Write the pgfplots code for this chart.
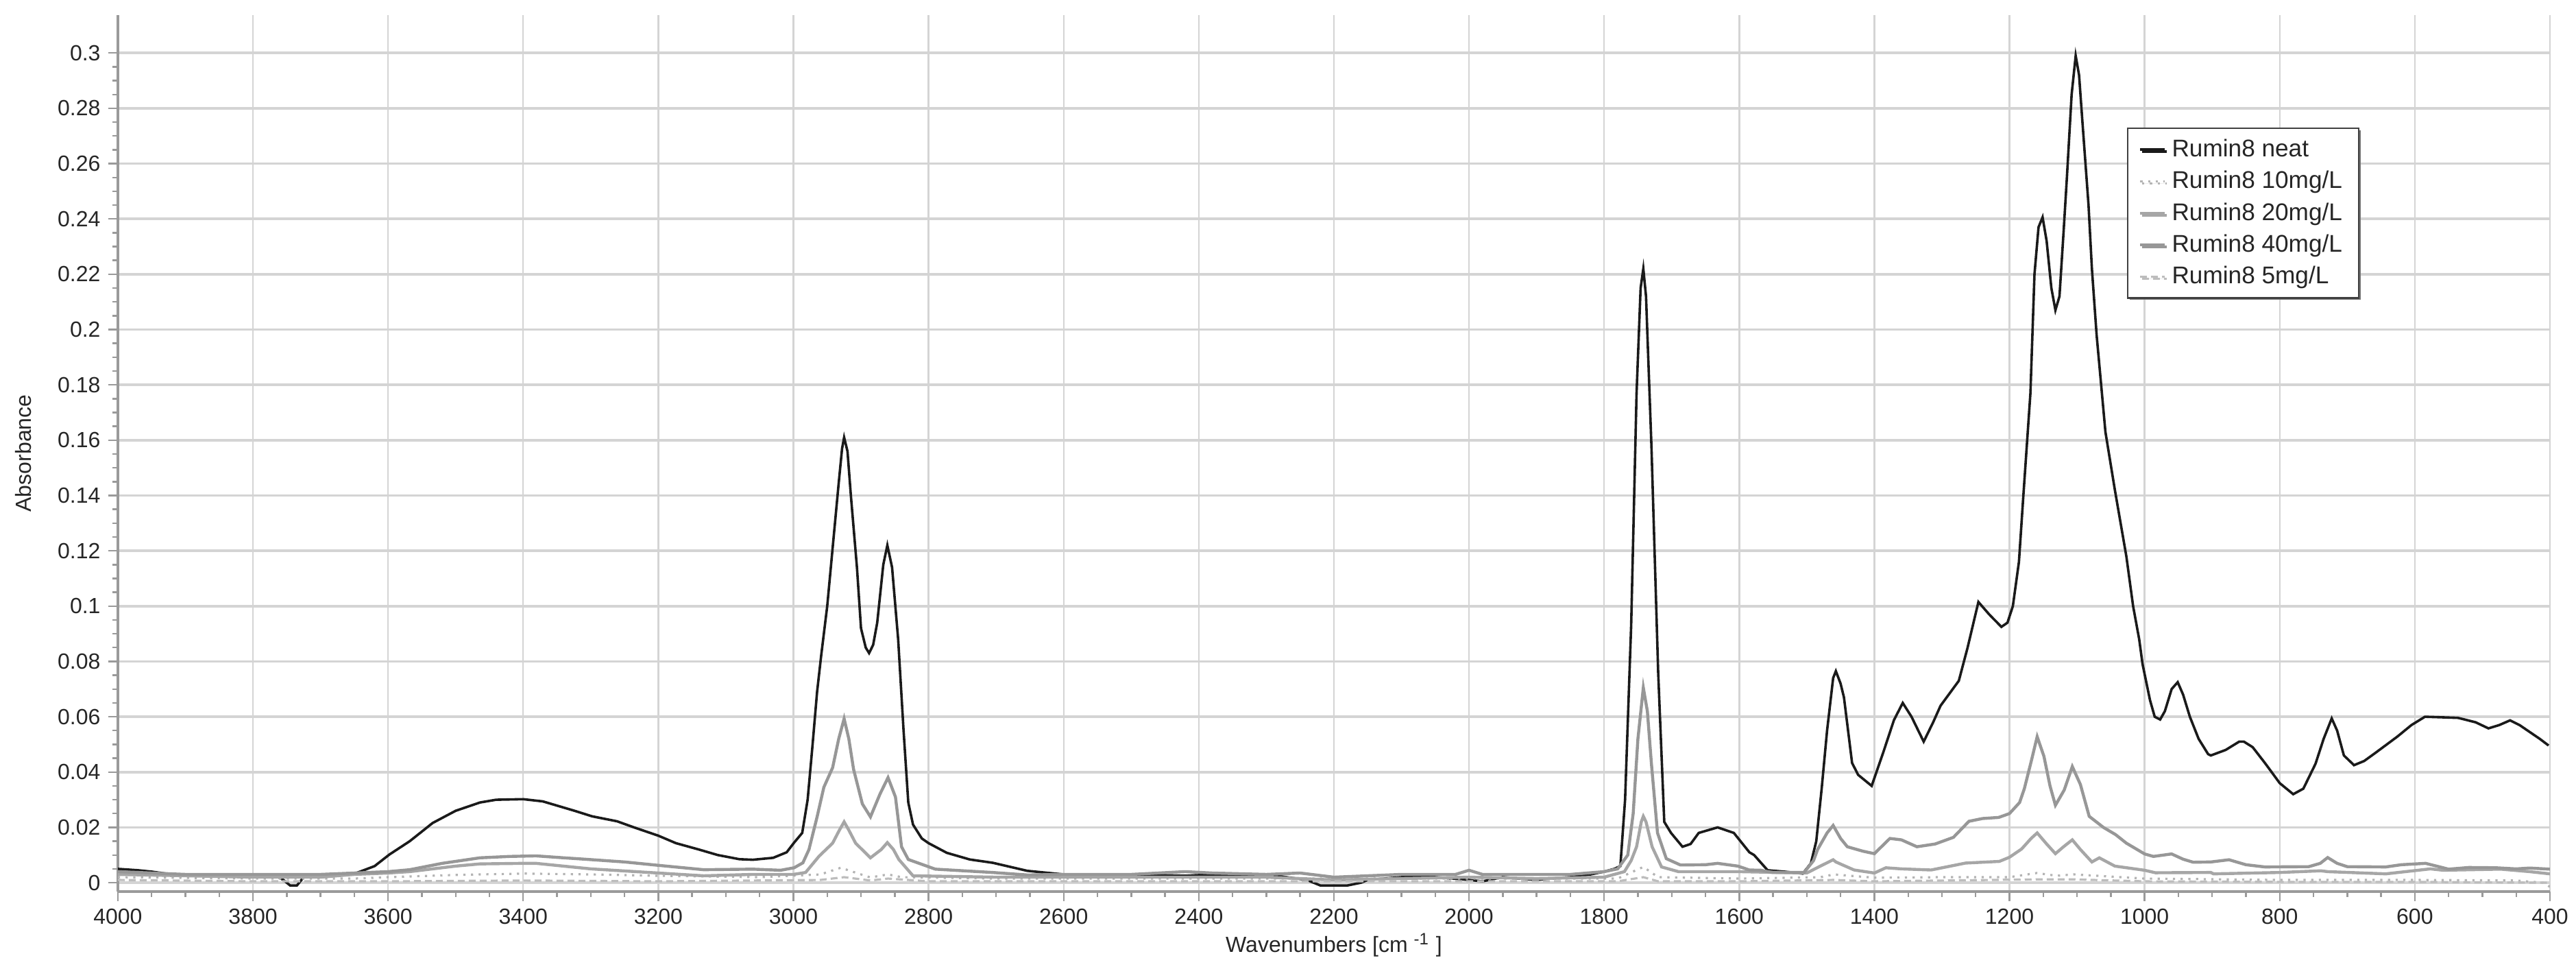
\documentclass[border=0pt]{standalone}
\usepackage{fontspec}
\setmainfont{Liberation Sans}
\usepackage{pgfplots}
\pgfplotsset{compat=1.18}
\usetikzlibrary{shadows}
\definecolor{gridc}{HTML}{D4D4D4}
\definecolor{axc}{HTML}{9A9A9A}
\definecolor{cneat}{HTML}{1A1A1A}
\definecolor{cten}{HTML}{B4B4B4}
\definecolor{ctwenty}{HTML}{A6A6A6}
\definecolor{cforty}{HTML}{979797}
\definecolor{cfive}{HTML}{BDBDBD}
\begin{document}
\fontsize{8pt}{9.6pt}\selectfont
\begin{tikzpicture}
\begin{axis}[
  at={(0,0)}, anchor=south west,
  scale only axis, width=887pt, height=319.5pt,
  x dir=reverse, xmin=400, xmax=4000, ymin=-0.0032, ymax=0.3137,
  xtick={400,600,800,1000,1200,1400,1600,1800,2000,2200,2400,2600,2800,3000,3200,3400,3600,3800,4000},
  ytick={0,0.02,0.04,0.06,0.08,0.1,0.12,0.14,0.16,0.18,0.2,0.22,0.24,0.26,0.28,0.3},
  minor x tick num=3, minor y tick num=3,
  axis x line*=bottom, axis y line*=left,
  axis line style={axc, line width=0.8pt},
  tick align=outside, major tick length=3.5pt, minor tick length=2pt,
  every tick/.style={axc, line width=0.6pt},
  grid=major,
  x grid style={gridc, line width=0.6pt},
  y grid style={gridc, line width=0.9pt},
  /pgf/number format/assume math mode=true,
  xticklabel style={/pgf/number format/1000 sep={}, text=black!85},
  yticklabel style={/pgf/number format/fixed, /pgf/number format/precision=2, text=black!85},
  scaled y ticks=false, scaled x ticks=false,
  xlabel={Wavenumbers [cm \textsuperscript{-1} ]},
  ylabel={Absorbance},
  xlabel style={at={(axis description cs:0.5,-0.061)}, anchor=center, text=black!85},
  ylabel style={at={(axis description cs:-0.0389,0.5)}, anchor=center, text=black!85},
  legend style={at={(axis description cs:0.8261,0.8717)}, anchor=north west,
    draw=black!75, fill=white, line width=0.6pt, row sep=0pt,
    font=\fontsize{8.8pt}{10pt}\selectfont,
    inner xsep=4pt, inner ysep=2pt, text=black!85,
    drop shadow={shadow xshift=0.7pt, shadow yshift=-0.7pt, fill=black!55, opacity=1}},
  legend cell align=left,
  legend image code/.code={\draw[#1] (0pt,0pt) -- (9pt,0pt);},
]
\addplot[cneat, line width=0.9pt] coordinates {
(4000,0.005)(3970,0.0045)(3950,0.004)(3920,0.003)(3880,0.0028)(3850,0.003)(3800,0.0025)(3770,0.003)(3755,0.001)(3745,-0.001)(3735,-0.001)(3725,0.002)(3700,0.003)(3670,0.003)
(3647,0.0035)(3620,0.006)(3598,0.0102)(3568,0.015)(3534,0.0216)(3500,0.026)(3464,0.029)(3440,0.030)(3400,0.0302)(3371,0.0294)(3324,0.026)(3298,0.024)(3261,0.0222)(3236,0.020)(3200,0.017)(3174,0.0143)(3140,0.012)(3112,0.010)(3080,0.0085)(3060,0.0083)(3030,0.009)(3010,0.011)
(2999,0.0145)(2987,0.018)(2979,0.030)(2972,0.049)(2965,0.069)(2959,0.082)(2950,0.1)(2942,0.121)(2933,0.1445)(2928,0.157)(2925,0.161)(2920,0.156)(2915,0.14)(2906,0.114)(2900,0.092)(2893,0.085)(2888,0.083)(2882,0.086)(2876,0.094)(2867,0.115)(2861,0.122)(2854,0.114)(2845,0.088)(2837,0.055)(2830,0.029)(2823,0.021)(2810,0.016)(2800,0.0143)(2773,0.0108)(2739,0.0084)(2705,0.0072)(2654,0.0043)(2600,0.003)
(2500,0.003)(2420,0.0025)(2380,0.003)(2300,0.003)(2240,0.001)(2220,-0.001)(2180,-0.001)(2160,0.0)(2150,0.001)(2100,0.002)(2050,0.002)(2000,0.001)(1980,0.0005)(1950,0.002)(1900,0.001)(1880,0.0015)(1850,0.002)(1820,0.003)(1800,0.004)(1785,0.005)(1776,0.006)
(1769,0.03)(1760,0.093)(1752,0.177)(1746,0.215)(1742,0.222)(1738,0.212)(1730,0.158)(1720,0.076)(1711,0.022)(1701,0.018)(1684,0.013)(1672,0.014)(1660,0.018)(1632,0.020)(1608,0.018)(1585,0.011)(1578,0.010)(1558,0.0045)(1533,0.004)(1506,0.0033)
(1494,0.007)(1486,0.015)(1478,0.034)(1470,0.055)(1461,0.074)(1457,0.0765)(1450,0.072)(1445,0.067)(1433,0.0433)(1424,0.039)(1404,0.035)(1387,0.047)(1371,0.0588)(1358,0.065)(1345,0.060)(1327,0.051)(1313,0.058)(1302,0.064)(1290,0.068)(1275,0.073)(1262,0.085)(1246,0.1015)(1230,0.097)(1212,0.0925)(1203,0.094)
(1195,0.100)(1186,0.116)(1180,0.138)(1169,0.177)(1163,0.22)(1157,0.237)(1151,0.2406)(1145,0.232)(1138,0.215)(1132,0.207)(1126,0.212)(1120,0.235)(1115,0.255)(1108,0.285)(1102,0.299)(1097,0.292)(1092,0.275)(1083,0.245)(1078,0.222)(1071,0.198)(1058,0.163)(1044,0.142)(1027,0.118)(1017,0.1)(1008,0.088)(1003,0.079)
(992,0.066)(985,0.060)(977,0.059)(970,0.062)(960,0.070)(951,0.0725)(943,0.068)(933,0.06)(920,0.052)(906,0.0465)(902,0.046)(880,0.048)(860,0.051)(853,0.051)(840,0.049)(821,0.043)(800,0.036)(780,0.032)(765,0.034)(747,0.043)(735,0.052)(723,0.0594)(715,0.055)(705,0.046)(690,0.0425)(675,0.044)(658,0.047)(626,0.0528)(605,0.057)(585,0.06)(560,0.0598)(536,0.0596)(510,0.058)(491,0.0558)(475,0.057)(459,0.0587)(445,0.057)(430,0.0545)(415,0.052)(402,0.0496)
};
\addlegendentry{Rumin8 neat}
\addplot[cten, line width=0.8pt, dotted] coordinates {
(4000,0.002)(3800,0.0015)(3650,0.0015)(3600,0.002)(3500,0.0028)(3400,0.0033)(3300,0.003)(3200,0.0025)(3050,0.002)(2960,0.003)(2930,0.0054)(2900,0.003)(2886,0.0019)(2860,0.003)(2840,0.002)(2700,0.0015)(2500,0.0015)(2300,0.0015)(2100,0.0015)(1900,0.0015)(1780,0.0015)(1742,0.0057)(1720,0.002)(1600,0.0015)(1480,0.002)(1460,0.003)(1400,0.0018)(1300,0.002)(1200,0.002)(1160,0.0035)(1130,0.0025)(1105,0.003)(1000,0.0015)(800,0.001)(600,0.001)(450,0.0008)(410,0.0)(400,-0.0015)
};
\addlegendentry{Rumin8 10mg/L}
\addplot[ctwenty, line width=1.1pt] coordinates {
(4000,0.003)(3800,0.002)(3700,0.002)(3650,0.003)(3600,0.0035)(3568,0.004)(3500,0.006)(3464,0.0068)(3400,0.007)(3381,0.007)(3300,0.005)(3200,0.0035)(3133,0.0025)(3060,0.003)(3000,0.003)(2982,0.0037)(2962,0.0096)(2942,0.0143)(2932,0.019)(2925,0.022)(2918,0.019)(2908,0.0143)(2886,0.009)(2870,0.012)(2861,0.0145)(2852,0.012)(2844,0.0084)(2823,0.0025)(2700,0.002)(2500,0.002)(2300,0.002)(2200,0.001)(2000,0.002)(1900,0.0015)(1800,0.002)(1770,0.004)(1760,0.008)(1752,0.013)(1745,0.022)(1742,0.024)(1738,0.022)(1729,0.013)(1715,0.0057)(1690,0.004)(1600,0.004)(1500,0.0035)(1480,0.006)(1461,0.0083)(1457,0.0075)(1430,0.0046)(1400,0.0035)(1383,0.0054)(1360,0.005)(1316,0.0046)(1265,0.0071)(1215,0.0077)(1200,0.0092)(1182,0.0122)(1168,0.016)(1159,0.018)(1145,0.014)(1132,0.0105)(1120,0.013)(1107,0.0155)(1095,0.012)(1078,0.0075)(1067,0.009)(1044,0.006)(1000,0.0045)(984,0.0036)(902,0.0037)(898,0.0032)(800,0.0037)(739,0.0043)(729,0.004)(643,0.0032)(577,0.005)(558,0.0045)(473,0.0049)(430,0.004)(400,0.0032)
};
\addlegendentry{Rumin8 20mg/L}
\addplot[cforty, line width=1.1pt] coordinates {
(4000,0.004)(3900,0.003)(3800,0.003)(3700,0.003)(3650,0.0035)(3600,0.004)(3568,0.0047)(3520,0.007)(3464,0.009)(3420,0.0095)(3381,0.0097)(3340,0.009)(3309,0.0085)(3250,0.0075)(3205,0.0064)(3133,0.0047)(3060,0.0049)(3019,0.0045)(2999,0.0054)(2986,0.0072)(2977,0.012)(2965,0.0238)(2955,0.0345)(2942,0.0416)(2933,0.052)(2925,0.0593)(2918,0.052)(2911,0.041)(2898,0.0285)(2886,0.0238)(2872,0.032)(2860,0.038)(2849,0.031)(2840,0.013)(2830,0.0084)(2790,0.0049)(2705,0.0037)(2654,0.0028)(2600,0.003)(2500,0.003)(2420,0.004)(2380,0.0035)(2300,0.003)(2250,0.0035)(2200,0.002)(2100,0.003)(2020,0.003)(2000,0.0045)(1980,0.003)(1900,0.003)(1850,0.003)(1800,0.004)(1780,0.005)(1765,0.010)(1757,0.025)(1750,0.052)(1742,0.0705)(1736,0.062)(1730,0.043)(1721,0.018)(1708,0.0087)(1687,0.0064)(1650,0.0065)(1632,0.007)(1602,0.006)(1585,0.0046)(1568,0.0045)(1551,0.0037)(1504,0.0037)(1490,0.008)(1484,0.012)(1470,0.018)(1461,0.0207)(1450,0.016)(1440,0.013)(1417,0.0114)(1400,0.0105)(1377,0.016)(1360,0.0155)(1337,0.013)(1310,0.014)(1283,0.0164)(1260,0.0222)(1240,0.0232)(1216,0.0236)(1200,0.025)(1185,0.029)(1178,0.034)(1168,0.0437)(1159,0.0528)(1149,0.0457)(1140,0.035)(1132,0.028)(1119,0.0335)(1107,0.042)(1095,0.0355)(1082,0.024)(1061,0.020)(1043,0.0174)(1027,0.0143)(1000,0.0104)(987,0.0095)(960,0.0104)(943,0.0085)(928,0.0074)(902,0.0075)(875,0.0083)(850,0.0065)(822,0.0057)(757,0.0058)(740,0.007)(729,0.0091)(715,0.007)(700,0.0058)(643,0.0057)(620,0.0065)(584,0.007)(550,0.0049)(520,0.0055)(480,0.0054)(450,0.005)(430,0.0053)(400,0.0049)
};
\addlegendentry{Rumin8 40mg/L}
\addplot[cfive, line width=0.8pt, dash pattern=on 2.5pt off 1.5pt] coordinates {
(4000,0.001)(3800,0.0005)(3600,0.0005)(3400,0.0008)(3200,0.0005)(2960,0.001)(2925,0.002)(2886,0.0008)(2860,0.0015)(2800,0.0005)(2400,0.0005)(2000,0.0005)(1780,0.0005)(1742,0.002)(1720,0.0005)(1600,0.0005)(1460,0.001)(1400,0.0005)(1160,0.0012)(1105,0.0012)(1000,0.0005)(800,0.0003)(600,0.0003)(400,0.0)
};
\addlegendentry{Rumin8 5mg/L}
\end{axis}
\path[use as bounding box] (-43pt,-27.5pt) rectangle (896.5pt,325pt);
\end{tikzpicture}
\end{document}
